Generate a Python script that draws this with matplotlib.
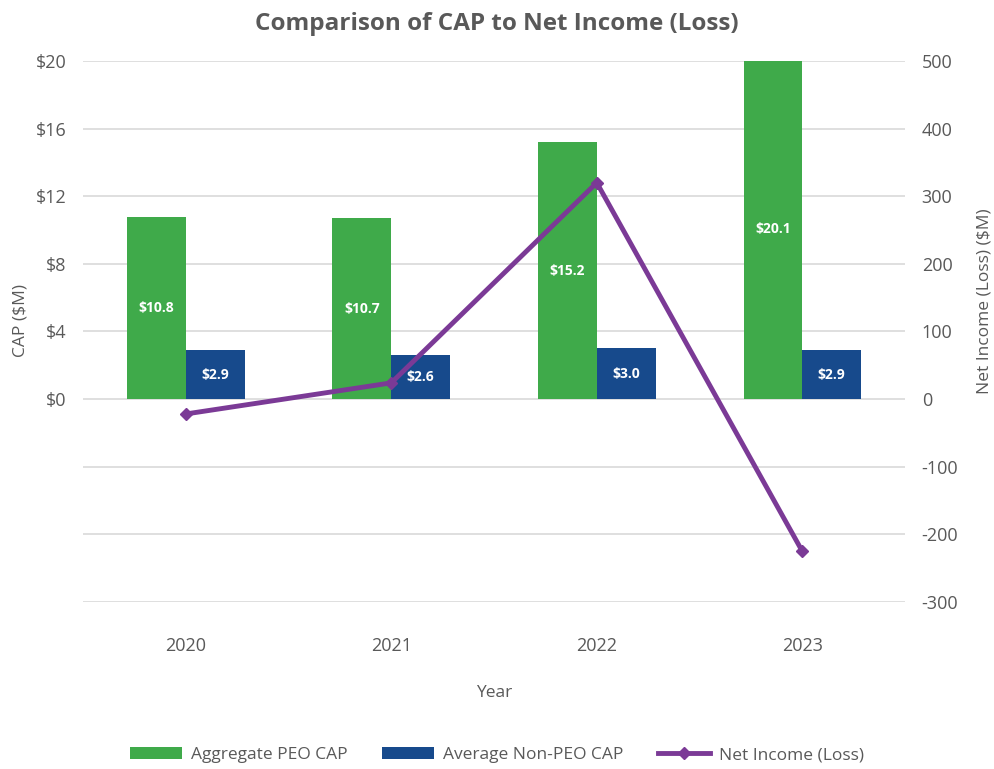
import numpy as np
import matplotlib.pyplot as plt
from matplotlib.ticker import FuncFormatter

plt.rcParams['font.family'] = ['Open Sans', 'DejaVu Sans']
plt.rcParams['axes.unicode_minus'] = False

years = ['2020', '2021', '2022', '2023']
peo_cap = [10.8, 10.7, 15.2, 20.1]
non_peo_cap = [2.9, 2.6, 3.0, 2.9]
net_income = [-22, 24, 320, -225]

green = '#3faa4a'
blue = '#174a8c'
purple = '#7b3a96'
txt = '#595959'
grid_c = '#d9d9d9'

fig = plt.figure(figsize=(9.94, 7.69), dpi=100)
ax = fig.add_axes([0.0835, 0.2172, 0.827, 0.7035])
ax2 = ax.twinx()

x = np.arange(len(years))
w = 0.286

b1 = ax.bar(x - w / 2, peo_cap, w, color=green, label='Aggregate PEO CAP', zorder=2)
b2 = ax.bar(x + w / 2, non_peo_cap, w, color=blue, label='Average Non-PEO CAP', zorder=2)

# white value labels in the middle of each bar
for bars in (b1, b2):
    for r in bars:
        h = r.get_height()
        ax.text(r.get_x() + r.get_width() / 2, h / 2, f'${h:.1f}', ha='center', va='center',
                color='white', fontsize=10, fontweight='bold', zorder=3)

ln, = ax2.plot(x, net_income, color=purple, lw=3.5, marker='D', ms=6,
               label='Net Income (Loss)', zorder=4)

ax.set_xlim(-0.5, 3.5)
ax.set_ylim(-12, 20)
ax.set_yticks(np.arange(-12, 21, 4))
ax.yaxis.set_major_formatter(FuncFormatter(lambda v, p: f'${v:.0f}' if v >= 0 else ''))
ax.grid(axis='y', color=grid_c, lw=1.2, zorder=0)
ax.set_axisbelow(True)

ax2.set_ylim(-300, 500)
ax2.set_yticks(np.arange(-300, 501, 100))

ax.set_xticks(x)
ax.set_xticklabels(years)

for a in (ax, ax2):
    for s in a.spines.values():
        s.set_visible(False)
    a.tick_params(length=0, colors=txt, labelsize=13)
ax.tick_params(axis='y', pad=12)
ax2.tick_params(axis='y', pad=12)
ax.tick_params(axis='x', pad=25)

ax.set_xlabel('Year', color=txt, fontsize=12.5, labelpad=22)
ax.set_ylabel('CAP ($M)', color=txt, fontsize=12.5)
ax.yaxis.set_label_coords(-0.066, 0.52)
ax2.set_ylabel('Net Income (Loss) ($M)', color=txt, fontsize=12.5)
ax2.yaxis.set_label_coords(1.087, 0.556)

fig.suptitle('Comparison of CAP to Net Income (Loss)', y=0.985, fontsize=17.5,
             fontweight='bold', color=txt)

leg = fig.legend(handles=[b1, b2, ln], loc='center', bbox_to_anchor=(0.5, 0.018),
                 ncol=3, frameon=False, fontsize=12.5, labelcolor=txt,
                 handlelength=3.0, handletextpad=0.5, columnspacing=2.0)

fig.savefig('out.png', dpi=100)
